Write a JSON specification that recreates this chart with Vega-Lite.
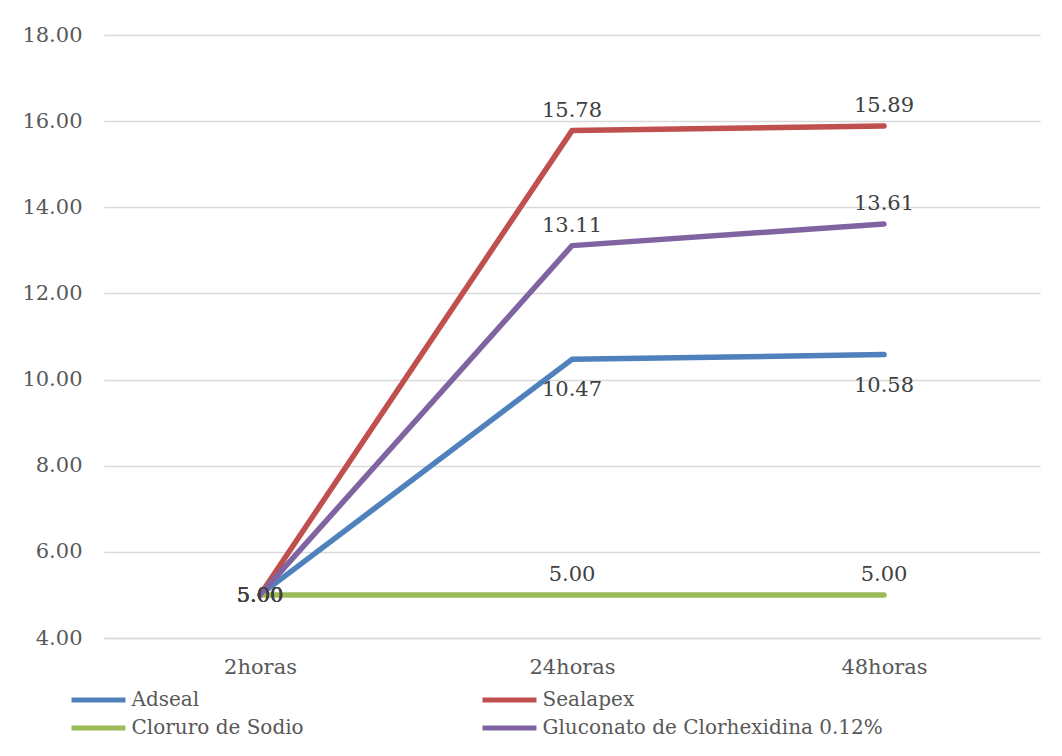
{
  "$schema": "https://vega.github.io/schema/vega-lite/v6.json",
  "width": 936,
  "height": 603,
  "autosize": {"type": "none"},
  "padding": {"left": 104, "top": 35, "right": 22, "bottom": 118},
  "background": "white",
  "config": {
    "view": {"stroke": null},
    "font": "DejaVu Serif",
    "axis": {"labelFont": "DejaVu Serif", "labelFontSize": 21, "labelColor": "#595959"}
  },
  "data": {
    "values": [
      {"series": "Adseal", "time": "2horas", "value": 5.00},
      {"series": "Adseal", "time": "24horas", "value": 10.47},
      {"series": "Adseal", "time": "48horas", "value": 10.58},
      {"series": "Sealapex", "time": "2horas", "value": 5.00},
      {"series": "Sealapex", "time": "24horas", "value": 15.78},
      {"series": "Sealapex", "time": "48horas", "value": 15.89},
      {"series": "Cloruro de Sodio", "time": "2horas", "value": 5.00},
      {"series": "Cloruro de Sodio", "time": "24horas", "value": 5.00},
      {"series": "Cloruro de Sodio", "time": "48horas", "value": 5.00},
      {"series": "Gluconato de Clorhexidina 0.12%", "time": "2horas", "value": 5.00},
      {"series": "Gluconato de Clorhexidina 0.12%", "time": "24horas", "value": 13.11},
      {"series": "Gluconato de Clorhexidina 0.12%", "time": "48horas", "value": 13.61}
    ]
  },
  "encoding": {
    "x": {
      "field": "time", "type": "ordinal",
      "sort": ["2horas", "24horas", "48horas"],
      "scale": {"type": "point", "padding": 0.5},
      "axis": {"title": null, "labelAngle": 0, "ticks": false, "domainColor": "#d9d9d9", "domainWidth": 1.5, "labelPadding": 18, "labelFontSize": 21}
    },
    "y": {
      "field": "value", "type": "quantitative",
      "scale": {"domain": [4, 18], "nice": false, "zero": false},
      "axis": {"title": null, "values": [4, 6, 8, 10, 12, 14, 16, 18], "format": ".2f", "ticks": false, "domain": false, "gridColor": "#d9d9d9", "gridWidth": 1.5, "labelPadding": 22, "labelFontSize": 21}
    }
  },
  "layer": [
    {
      "mark": {"type": "line", "strokeWidth": 5.5, "strokeCap": "round", "strokeJoin": "round"},
      "encoding": {
        "color": {
          "field": "series", "type": "nominal",
          "sort": ["Adseal", "Sealapex", "Cloruro de Sodio", "Gluconato de Clorhexidina 0.12%"],
          "scale": {
            "domain": ["Adseal", "Sealapex", "Cloruro de Sodio", "Gluconato de Clorhexidina 0.12%"],
            "range": ["#4F81BD", "#C0504D", "#9BBB59", "#8064A2"]
          },
          "legend": {
            "title": null, "orient": "none", "direction": "horizontal", "columns": 2,
            "legendX": -21.5, "legendY": 649,
            "symbolType": "M-2,0H2", "symbolSize": 729, "symbolStrokeWidth": 5,
            "labelFont": "DejaVu Serif", "labelFontSize": 20, "labelColor": "#595959", "labelLimit": 0,
            "labelOffset": 17, "columnPadding": 168, "rowPadding": 2
          }
        },
        "order": {"value": 0}
      }
    },
    {
      "transform": [{"filter": "datum.time != '2horas' && datum.series != 'Adseal'"}],
      "mark": {"type": "text", "fontSize": 21, "color": "#404040", "dy": -20, "font": "DejaVu Serif"},
      "encoding": {"text": {"field": "value", "type": "quantitative", "format": ".2f"}}
    },
    {
      "transform": [{"filter": "datum.time != '2horas' && datum.series == 'Adseal'"}],
      "mark": {"type": "text", "fontSize": 21, "color": "#404040", "dy": 31, "font": "DejaVu Serif"},
      "encoding": {"text": {"field": "value", "type": "quantitative", "format": ".2f"}}
    },
    {
      "transform": [{"filter": "datum.time == '2horas'"}],
      "mark": {"type": "text", "fontSize": 21, "color": "#404040", "dy": 1, "font": "DejaVu Serif"},
      "encoding": {"text": {"field": "value", "type": "quantitative", "format": ".2f"}}
    }
  ]
}
